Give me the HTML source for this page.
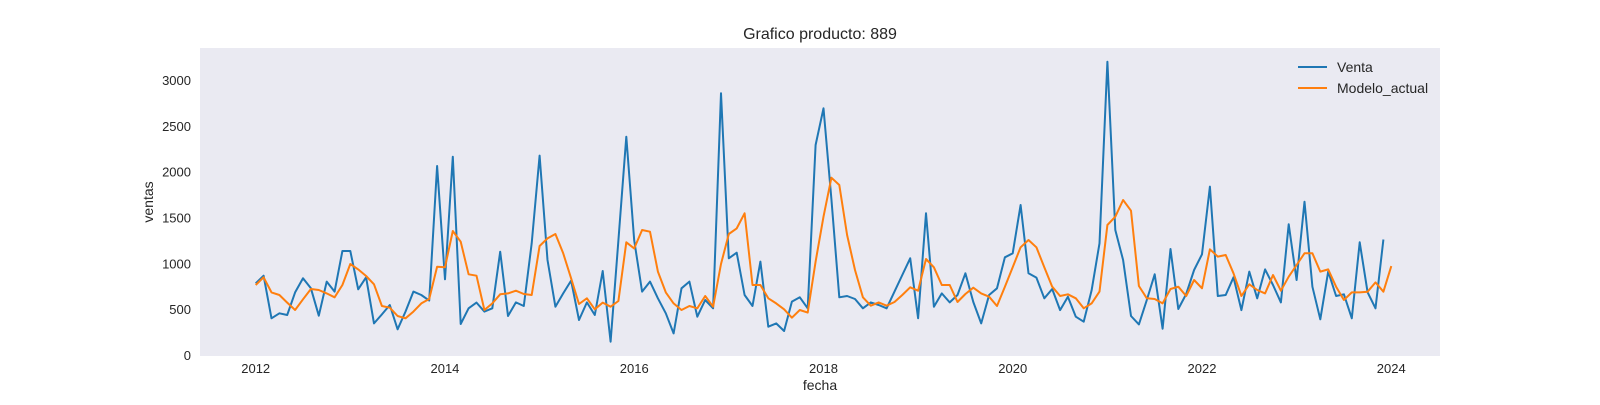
<!DOCTYPE html>
<html><head><meta charset="utf-8"><style>
body{margin:0;background:#fff;}
svg text{font-family:"Liberation Sans","DejaVu Sans",sans-serif;fill:#262626;}
</style></head><body>
<svg id="chart" width="1600" height="400" viewBox="0 0 1600 400" xmlns="http://www.w3.org/2000/svg">
<rect x="200" y="48" width="1240" height="308" fill="#eaeaf2"/>
<text x="820" y="39" font-size="16" text-anchor="middle">Grafico producto: 889</text>
<text x="820" y="390" font-size="14" text-anchor="middle">fecha</text>
<text x="0" y="0" font-size="14" text-anchor="middle" transform="translate(153,202) rotate(-90)">ventas</text>
<g id="xticks"></g><g id="yticks"></g>
<g id="series"></g>
<g>
<line x1="1298" y1="67" x2="1327" y2="67" stroke="#1f77b4" stroke-width="2"/>
<text x="1337" y="72" font-size="14">Venta</text>
<line x1="1298" y1="88" x2="1327" y2="88" stroke="#ff7f0e" stroke-width="2"/>
<text x="1337" y="93" font-size="14">Modelo_actual</text>
</g>
</svg>
<script>
const startYear = 2012;
const yTicks = [0,500,1000,1500,2000,2500,3000];
const xTickYears = [2012,2014,2016,2018,2020,2022,2024];
const venta = [782,865,400,455,436,683,836,727,429,800,691,1134,1134,716,847,345,443,545,280,473,691,654,593,2061,825,2163,338,509,571,473,509,1127,425,574,534,1218,
2174,1036,527,672,811,382,574,436,916,145,1250,2381,1250,691,800,618,455,236,727,800,418,600,509,2854,1054,1116,654,534,1018,309,345,262,582,629,509,2290,2690,
1700,629,643,611,509,574,545,509,691,872,1054,400,1545,527,672,574,654,891,578,345,654,727,1065,1109,1636,891,844,618,720,490,636,418,363,705,1218,3199,1363,
1036,425,334,600,880,287,1156,502,665,927,1098,1836,643,654,847,490,909,618,934,763,574,1425,818,1672,745,389,909,643,662,400,1229,684,509,1260];
const modelo = [763,847,683,654,571,491,607,720,709,672,629,763,992,934,861,771,534,516,425,400,473,563,611,963,958,1352,1236,880,865,491,563,662,672,701,665,654,
1189,1272,1319,1109,836,556,618,498,571,527,589,1229,1163,1363,1345,909,683,563,491,534,509,643,527,992,1319,1381,1545,763,763,618,563,498,407,491,462,1018,1508,
1934,1854,1309,927,629,538,574,538,578,654,738,701,1047,956,763,763,578,665,734,672,636,534,745,958,1174,1254,1174,958,745,643,662,618,509,563,691,1418,1508,
1690,1574,752,618,611,563,720,745,643,818,727,1153,1073,1091,891,643,771,709,672,872,701,854,981,1109,1109,909,934,745,600,683,683,690,792,690,970];

const X0 = 255.7, PX_YEAR = 94.63;
const xMonth = k => X0 + PX_YEAR * k / 12;
const xYear = yr => X0 + PX_YEAR * (yr - startYear);
const yVal = v => 355 - v * 0.0917;
const NS = "http://www.w3.org/2000/svg";
const xt = document.getElementById('xticks');
xTickYears.forEach(yr => {
  const t = document.createElementNS(NS,'text');
  
  
  t.setAttribute('x', xYear(yr)); t.setAttribute('y', 373);
  t.setAttribute('font-size', '13'); t.setAttribute('text-anchor', 'middle');
  t.textContent = yr; xt.appendChild(t);
});
const yt = document.getElementById('yticks');
yTicks.forEach(v => {
  const t = document.createElementNS(NS,'text');
  
  
  t.setAttribute('x', 191); t.setAttribute('y', yVal(v) + 5);
  t.setAttribute('font-size', '13'); t.setAttribute('text-anchor', 'end');
  t.textContent = v; yt.appendChild(t);
});
const sg = document.getElementById('series');
function addLine(vals, color, name) {
  const p = document.createElementNS(NS,'polyline');
  
  
  p.setAttribute('points', vals.map((v,k) => xMonth(k).toFixed(1)+','+yVal(v).toFixed(1)).join(' '));
  p.setAttribute('fill', 'none'); p.setAttribute('stroke', color);
  p.setAttribute('stroke-width', '2'); p.setAttribute('stroke-linejoin', 'round');
  sg.appendChild(p);
}
addLine(venta, '#1f77b4', 'venta-line');
addLine(modelo, '#ff7f0e', 'modelo-actual-line');
</script>
</body></html>
